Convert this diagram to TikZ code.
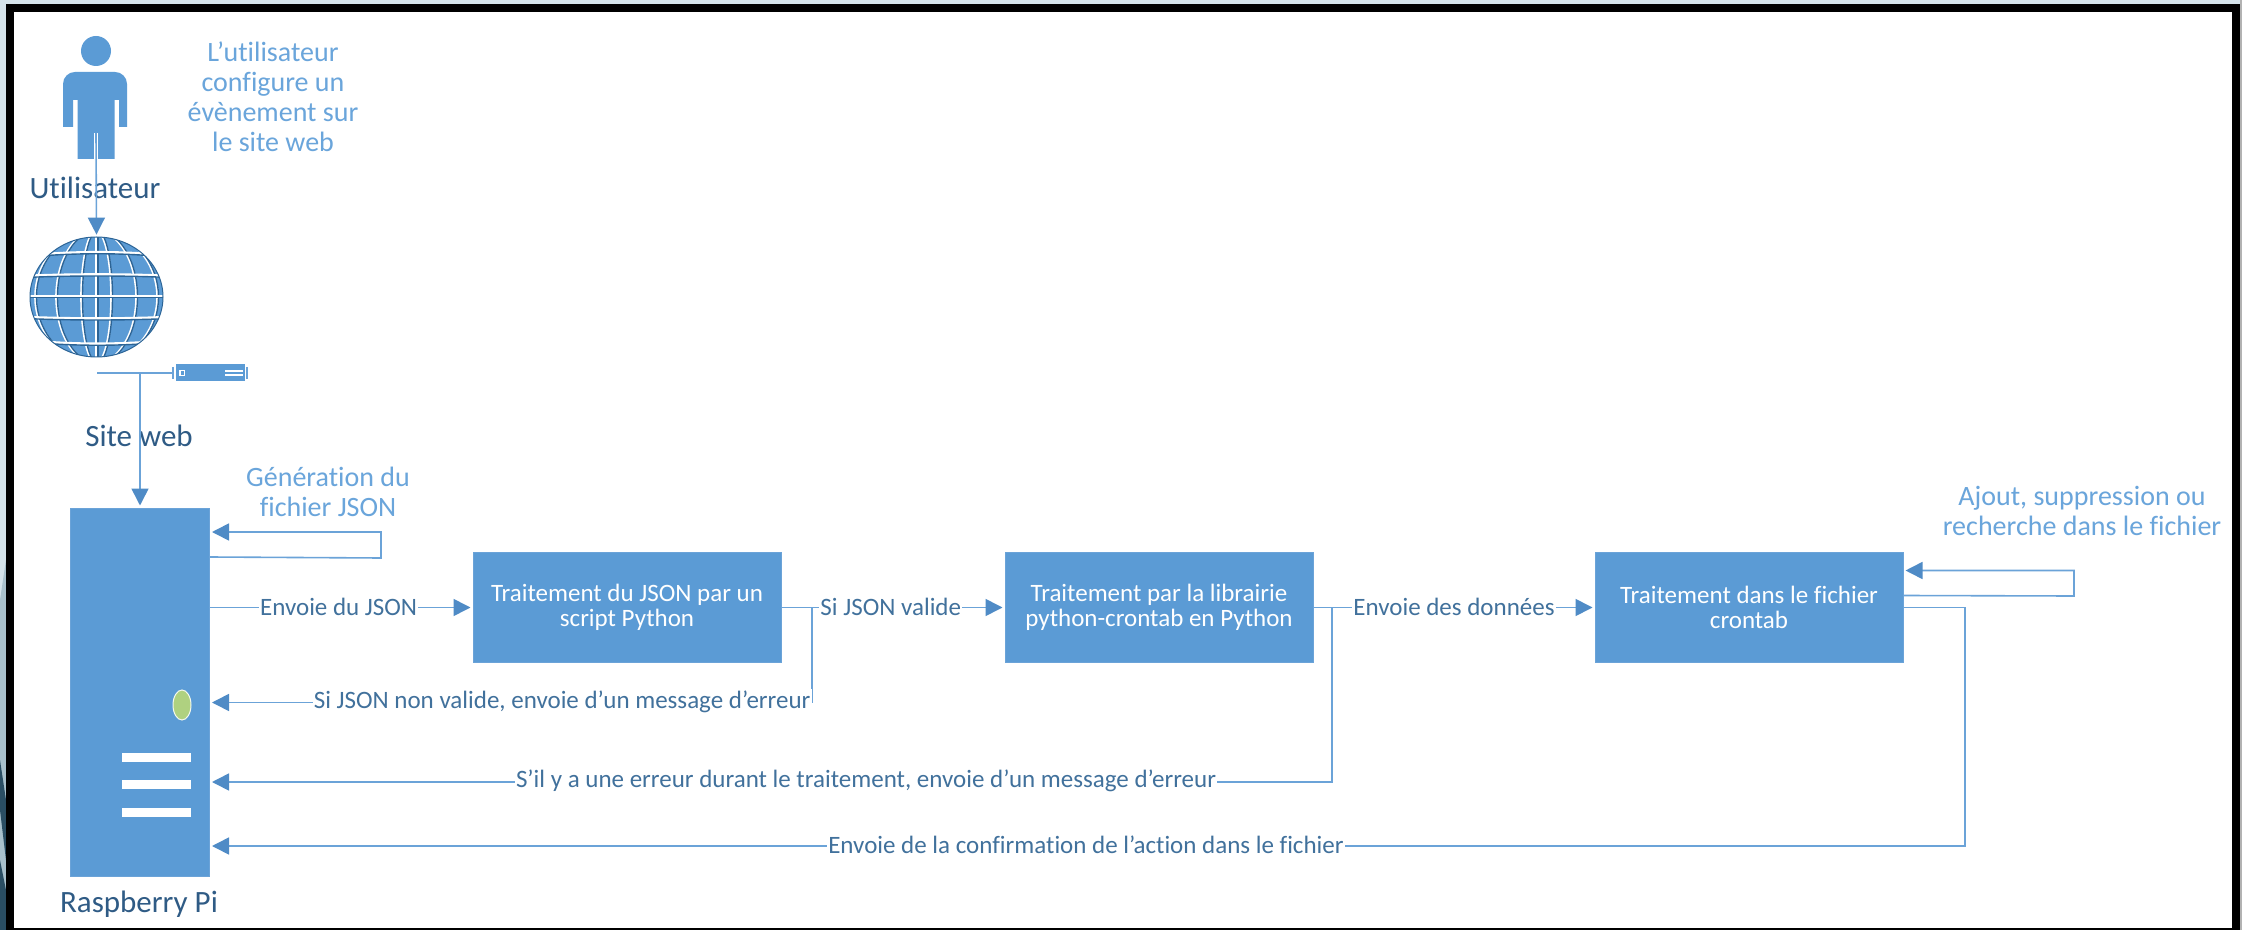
\documentclass[tikz,border=0pt]{standalone}
\usepackage{fontspec}
\setmainfont[Ligatures=NoCommon]{Carlito}
\usetikzlibrary{arrows.meta,calc,shapes.geometric}
\definecolor{fillblue}{HTML}{5B9BD5}
\definecolor{edgeblue}{HTML}{6BA3D8}
\definecolor{tipblue}{HTML}{4F8BC6}
\definecolor{labelblue}{HTML}{41719C}
\definecolor{titleblue}{HTML}{2F5B85}
\definecolor{notesblue}{HTML}{6AA5DB}
\definecolor{globeline}{HTML}{2C6496}
\definecolor{bgpale}{HTML}{D5E3EA}
\definecolor{bgmid}{HTML}{A9C1CC}
\definecolor{bgdark}{HTML}{2A4E63}
\definecolor{ledgreen}{HTML}{AFD180}
\tikzset{
  x=0.5pt,y=-0.5pt,
  link/.style={draw=edgeblue,line width=0.8pt,line join=miter},
  arrowed/.style={link,-{Triangle[length=8.5pt,width=8.5pt,color=tipblue]},shorten >=1pt},
  procbox/.style={rectangle,fill=fillblue,draw=edgeblue,line width=0.5pt,minimum width=154pt,minimum height=55pt,align=center,text=white,font=\fontsize{12.5}{12.4}\selectfont,inner sep=0pt},
  rack/.style={rectangle,fill=fillblue,draw=edgeblue,line width=0.5pt,minimum width=69.5pt,minimum height=184pt,inner sep=0pt},
  flowlabel/.style={fill=white,text=labelblue,font=\fontsize{12.5}{14}\selectfont,inner xsep=0.6pt,inner ysep=1pt,yshift=0.5pt},
  note/.style={text=notesblue,align=center,font=\fontsize{14}{15}\selectfont,inner sep=0pt},
  title/.style={text=titleblue,font=\fontsize{15.5}{17}\selectfont,inner sep=0pt},
  whitebar/.style={fill=white,draw=none},
}
\begin{document}
\begin{tikzpicture}
\useasboundingbox (0,0) rectangle (2242,930);
% surroundings of the frame
\fill[bgpale] (0,0) rectangle (2242,930);
\fill[bgmid] (0,600) -- (6,560) -- (6,930) -- (0,930) -- cycle;
\fill[bgdark] (0,760) -- (6,800) -- (6,860) -- (0,810) -- cycle;
\fill[bgdark] (0,860) -- (6,890) -- (6,930) -- (0,930) -- cycle;
\fill[gray!60] (2240,0) rectangle (2242,930);
% frame
\fill[black] (6,4) rectangle (2240,930);
\fill[white] (14,12) rectangle (2232,928);
% user figure
\fill[fillblue] (96,51) circle[radius=15];
\fill[fillblue] (63,127) -- (63,84) to[out=90,in=180] (75,72) -- (115,72) to[out=0,in=90] (127,84) -- (127,127) -- (119,127) -- (119,100) -- (114.5,100) -- (114.5,159) -- (77.5,159) -- (77.5,100) -- (73,100) -- (73,127) -- cycle;
\draw[white,line width=2pt] (96,133) -- (96,159);
\coordinate (userfoot) at (96,133);
\node[title] (user) at (95,187.5) {Utilisateur};
% globe
\node[circle,minimum size=60pt,inner sep=0pt] (globe) at (96.5,297) {};
\begin{scope}
  \clip (96.5,297) ellipse[x radius=66.5,y radius=60];
  \fill[fillblue] (30,237) rectangle (163,358);
  \foreach \r in {15,40,61}{
    \draw[white,line width=1.3pt] (96.5,297) ellipse[x radius=\r,y radius=66];
    \draw[globeline,line width=0.7pt] (97.5,297) ellipse[x radius=\r,y radius=66];
  }
  \draw[white,line width=1.3pt] (96,237) -- (96,358);
  \draw[globeline,line width=0.7pt] (98,237) -- (98,358);
  \foreach \yy/\c in {257/-5,277/-2,297/0,318/2,341/5}{
    \draw[white,line width=1.3pt] (25,\yy-1) .. controls (70,\yy-1+\c) and (125,\yy-1+\c) .. (170,\yy-1);
    \draw[globeline,line width=0.7pt] (25,\yy+0.5) .. controls (70,\yy+0.5+\c) and (125,\yy+0.5+\c) .. (170,\yy+0.5);
  }
\end{scope}
\draw[globeline,line width=0.5pt] (96.5,297) ellipse[x radius=66.5,y radius=60];
% server
\node[rectangle,fill=fillblue,minimum width=34.5pt,minimum height=8.5pt,inner sep=0pt] (server) at (210.5,373) {};
\draw[edgeblue,line width=0.6pt] (173,367) -- (173,379) (247,367) -- (247,379);
\draw[white,line width=0.6pt] (180,370.5) rectangle (184.5,375.5);
\draw[white,line width=0.7pt] (225,371) -- (243,371) (225,375) -- (243,375);
\coordinate (serverleft) at (97,373);
\coordinate (servertick) at (172,373);
\coordinate (bustap) at (140,373);
\node[title] (site) at (139,436) {Site web};
% raspberry pi
\node[rack] (pi) at (140,692) {};
\node[ellipse,fill=ledgreen,draw=white!85!ledgreen,line width=0.5pt,minimum width=9pt,minimum height=15pt,inner sep=0pt] (led) at (182,705) {};
\node[whitebar,rectangle,minimum width=34.5pt,minimum height=4.5pt,inner sep=0pt] (bara) at (156.5,757) {};
\node[whitebar,rectangle,minimum width=34.5pt,minimum height=4.5pt,inner sep=0pt] (barb) at (156.5,784) {};
\node[whitebar,rectangle,minimum width=34.5pt,minimum height=4.5pt,inner sep=0pt] (barc) at (156.5,812) {};
\node[title] (pilabel) at (139,904) {Raspberry Pi};
% process boxes
\node[procbox] (boxa) at (627,607.5) {Traitement du JSON par un\\script Python};
\node[procbox] (boxb) at (1159,607.5) {Traitement par la librairie\\python-crontab en Python};
\node[procbox] (boxc) at (1749,607.5) {Traitement dans le fichier\\crontab};
% notes
\node[note] (notea) at (273,97) {L’utilisateur\\configure un\\évènement sur\\le site web};
\node[note] (noteb) at (328,492) {Génération du\\fichier JSON};
\node[note] (notec) at (2082,511) {Ajout, suppression ou\\recherche dans le fichier};
% connectors
\coordinate (loopaout) at ($(pi.north east)+(0,49.5)$);
\coordinate (loopain) at ($(pi.north east)+(0,24.5)$);
\coordinate (loopafar) at (381,558);
\coordinate (loopbout) at ($(boxc.north east)+(0,43.5)$);
\coordinate (loopbin) at ($(boxc.north east)+(0,18.5)$);
\coordinate (loopbfar) at (2074,596);
\coordinate (piinvalid) at (pi.east |- 0,702.5);
\coordinate (pierror) at (pi.east |- 0,782);
\coordinate (piconfirm) at (pi.east |- 0,846);
\coordinate (tapa) at (812,607.5);
\coordinate (tapb) at (1332,607.5);
\coordinate (farright) at (1965,607.5);
\draw[arrowed] (userfoot) -- (globe.north);
\draw[link] (serverleft) -- (servertick);
\draw[arrowed] (bustap) -- (pi.north);
\draw[arrowed] (loopaout) -- (loopafar) |- (loopain);
\draw[arrowed] (pi.east |- boxa.west) -- node[flowlabel,pos=0.49] (la) {Envoie du JSON} (boxa.west);
\draw[arrowed] (boxa.east) -- node[flowlabel,pos=0.49] (lb) {Si JSON valide} (boxb.west);
\draw[arrowed] (tapa) |- (piinvalid);
\node[flowlabel,anchor=east] (lc) at (812,702.5) {Si JSON non valide, envoie d’un message d’erreur};
\draw[arrowed] (boxb.east) -- node[flowlabel,pos=0.5] (ld) {Envoie des données} (boxc.west);
\draw[arrowed] (tapb) |- (pierror);
\node[flowlabel] (le) at (866,782) {S’il y a une erreur durant le traitement, envoie d’un message d’erreur};
\draw[arrowed] (loopbout) -- (loopbfar) |- (loopbin);
\draw[arrowed] (boxc.east) -- (farright) |- (piconfirm);
\node[flowlabel] (lf) at (1086,846) {Envoie de la confirmation de l’action dans le fichier};
\end{tikzpicture}
\end{document}
